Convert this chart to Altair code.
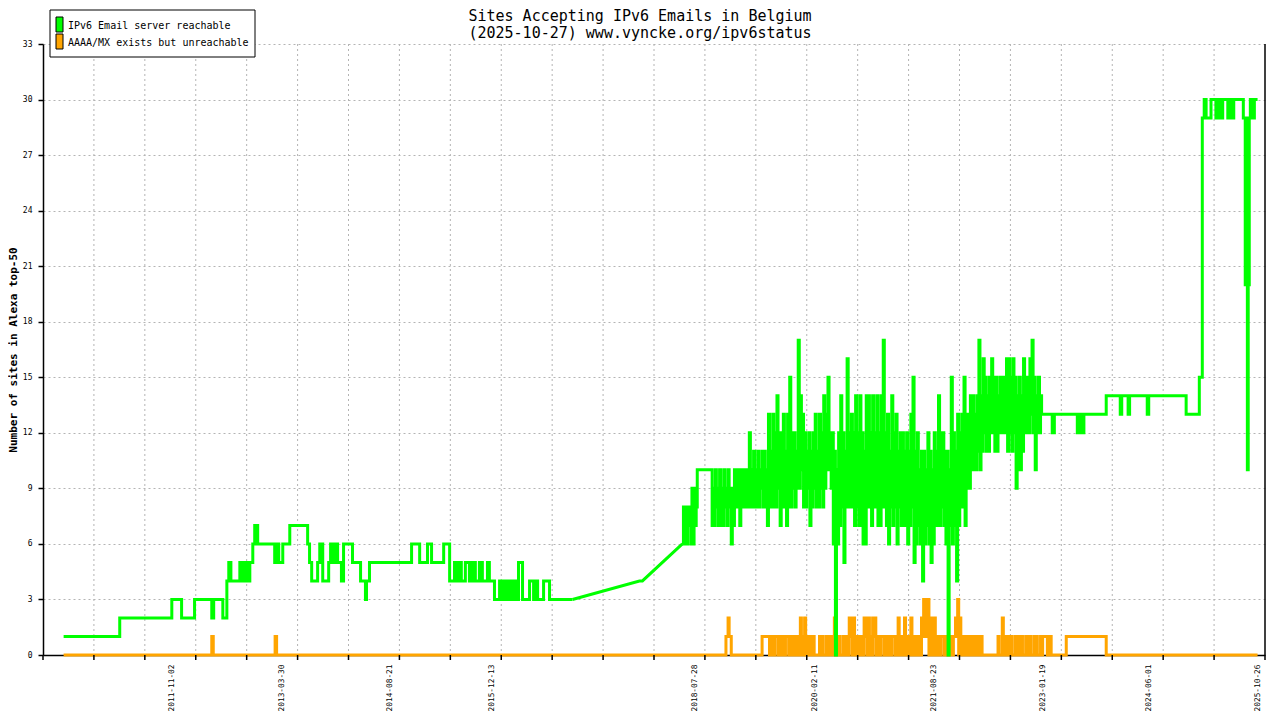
import altair as alt
import pandas as pd

MONO = "DejaVu Sans Mono"
GREEN = "#00ff00"
ORANGE = "#ffa500"

TITLE_LINES = ["Sites Accepting IPv6 Emails in Belgium", "(2025-10-27) www.vyncke.org/ipv6status"]
Y_TITLE = "Number of sites in Alexa top-50"
LEGEND_LABELS = ["IPv6 Email server reachable", "AAAA/MX exists but unreachable"]
LEGEND_COLORS = [GREEN, ORANGE]
X_LABEL_DATES = ["2011-11-02", "2013-03-30", "2014-08-21", "2015-12-13", "2018-07-28",
                 "2020-02-11", "2021-08-23", "2023-01-19", "2024-06-01", "2025-10-26"]
Y_TICKS = [0, 3, 6, 9, 12, 15, 18, 21, 24, 27, 30, 33]
X_DOMAIN = ["2010-03-06", "2025-12-01"]
N_X_INTERVALS = 24

# --- IPv6 reachable: change points before the 2017 data gap ---
green_a_dates = [
    "2010-06-11", "2011-03-02", "2011-11-02", "2011-12-18", "2012-02-17", "2012-05-08", "2012-05-17",
    "2012-06-29", "2012-07-18", "2012-07-27", "2012-08-06", "2012-09-17", "2012-09-26", "2012-10-06",
    "2012-10-15", "2012-10-24", "2012-10-29", "2012-11-03", "2012-11-17", "2012-11-26", "2012-12-10",
    "2013-02-28", "2013-03-09", "2013-03-19", "2013-04-07", "2013-05-10", "2013-08-02", "2013-08-11",
    "2013-08-21", "2013-09-18", "2013-09-28", "2013-10-02", "2013-10-07", "2013-10-12", "2013-11-09",
    "2013-11-18", "2013-11-28", "2013-12-07", "2013-12-21", "2014-01-08", "2014-01-18", "2014-03-01",
    "2014-04-08", "2014-05-01", "2014-05-06", "2014-05-20", "2014-12-04", "2015-01-11", "2015-02-17",
    "2015-03-08", "2015-05-04", "2015-06-01", "2015-06-24", "2015-07-03", "2015-07-17", "2015-07-26",
    "2015-08-14", "2015-09-02", "2015-09-16", "2015-09-30", "2015-10-19", "2015-11-02", "2015-11-26",
    "2015-12-05", "2015-12-29", "2016-01-22", "2016-02-05", "2016-02-15", "2016-02-24", "2016-03-05",
    "2016-03-14", "2016-03-23", "2016-04-06", "2016-04-20", "2016-05-09", "2016-06-11", "2016-06-30",
    "2016-07-14", "2016-07-19", "2016-08-16", "2016-09-13", "2016-12-30",
]
green_a_values = [
    1, 2, 3, 2, 3, 2, 3,
    2, 4, 5, 4, 5, 4, 5,
    4, 5, 4, 5, 6, 7, 6,
    5, 6, 5, 6, 7, 6, 5,
    4, 5, 6, 5, 6, 4, 5,
    6, 5, 6, 5, 4, 6, 5,
    4, 3, 4, 5, 6, 5, 6,
    5, 6, 4, 5, 4, 5, 4,
    5, 4, 5, 4, 5, 4, 5,
    4, 3, 4, 3, 4, 3, 4,
    3, 4, 3, 5, 3, 4, 3,
    4, 3, 4, 3, 3,
]

# --- sparse period (straight line between the few samples) ---
gap_dates = ["2016-12-30", "2017-11-10", "2017-11-24", "2018-05-31"]
gap_values = [3, 4, 4, 6]

# --- dense daily period: low and high read for each 10-day bin ---
dense_start = "2018-05-31"
dense_bin_days = 10
green_dense_lo = [
    6, 6, 6, 7, 6, 6, 7,
    10, 10, 10, 10, 10, 10, 10,
    7, 7, 8, 7, 7, 7, 8, 7, 8,
    6,
    7, 8, 8, 7, 8, 8, 8,
    8,
    8, 8, 8, 8, 8, 9, 8, 8,
    7, 8,
    8, 8, 8, 9,
    7, 8, 8, 7, 8, 8, 9, 8,
    9, 9, 10,
    8, 8, 9, 7, 8, 9, 8, 8, 9, 8, 9, 10,
    10, 9, 6, 0, 6,
    7, 8, 5, 8, 8,
    8, 8, 7, 8, 7, 7, 6, 6, 8, 8, 7, 8, 8,
    7, 7, 8, 8, 7, 6, 8, 7, 8, 6, 8, 7, 7,
    7, 6, 7, 8, 5, 6, 7, 6,
    4, 6, 7, 6, 5, 6, 7, 7,
    7, 8, 7, 6, 0, 7,
    6, 7, 4, 7, 8, 8,
    7, 9, 9, 10, 10, 10, 11,
    10, 11, 12, 11, 11, 12, 12, 11, 11, 12, 12, 12,
    12, 11, 12, 11, 12, 9, 10, 10, 11, 12, 12, 12, 13, 12, 10, 12, 12, 13,
]
green_dense_hi = [
    8, 8, 8, 8, 9, 9, 8,
    10, 10, 10, 10, 10, 10, 10,
    9, 10, 9, 10, 9, 10, 9, 10, 9,
    9,
    10, 10, 10, 10, 10, 10, 10,
    12,
    10, 11, 10, 11, 10, 11, 11, 10,
    13, 11,
    13, 12, 14, 12,
    12, 13, 11, 13, 15, 12, 12, 11,
    17, 14, 13,
    12, 11, 12, 11, 12, 13, 11, 13, 12, 14, 13, 15,
    12, 12, 11, 10, 12,
    14, 12, 11, 16, 12,
    13, 12, 14, 12, 14, 12, 11, 14, 14, 12, 14, 12, 14,
    12, 14, 17, 12, 13, 11, 14, 12, 13, 11, 12, 12, 11,
    12, 11, 13, 15, 11, 12, 10, 11,
    11, 10, 12, 11, 10, 12, 11, 14,
    12, 12, 11, 11, 10, 15,
    12, 11, 13, 12, 13, 15,
    13, 13, 14, 14, 13, 14, 17,
    14, 16, 15, 14, 15, 16, 15, 15, 14, 15, 15, 15,
    16, 16, 15, 16, 15, 14, 15, 14, 16, 15, 15, 16, 17, 15, 14, 15, 14, 13,
]
orange_dense_lo = [
    0, 0, 0, 0, 0, 0, 0, 0, 0, 0, 0, 0, 0, 0, 0, 0, 0, 0, 0, 0,
    0, 1, 1, 0,
    0, 0, 0, 0, 0, 0, 0, 0, 0, 0, 0, 0, 0,
    0, 1, 1, 1, 0, 0, 0, 1, 0, 0, 0, 0, 1, 0, 0, 0, 0, 0,
    0, 0, 0, 0,
    0, 0, 0, 0, 0, 0, 0, 0, 0, 0, 0, 0,
    0, 0, 0, 0, 0, 0, 0,
    0, 1, 0, 0,
    0, 0, 0,
    0, 1, 0, 0, 0, 1, 0,
    0, 0, 1, 0, 0, 0, 0, 1, 0,
    0, 0, 0, 0, 0, 0, 0, 0,
    0, 0, 0,
    0, 1, 1, 1, 0, 0, 0,
    0, 0, 0, 1, 0, 0, 0, 0, 0,
    1, 1, 0, 0,
    0, 0, 0, 0, 0, 0, 0,
    0, 0, 0, 0, 0, 0, 0, 0, 0, 0, 0,
    0, 0,
    0, 0, 0, 0, 0, 0, 0, 0, 0, 0, 0, 0, 0, 0, 0, 0, 0, 0,
]
orange_dense_hi = [
    0, 0, 0, 0, 0, 0, 0, 0, 0, 0, 0, 0, 0, 0, 0, 0, 0, 0, 0, 0,
    1, 2, 1, 0,
    0, 0, 0, 0, 0, 0, 0, 0, 0, 0, 0, 0, 0,
    1, 1, 1, 1, 1, 1, 1, 1, 1, 1, 1, 1, 1, 1, 1, 1, 1, 1,
    2, 1, 2, 1,
    1, 1, 1, 0, 0, 1, 1, 0, 1, 1, 1, 1,
    2, 1, 1, 0, 1, 1, 1,
    2, 2, 2, 1,
    1, 1, 1,
    2, 2, 2, 1, 2, 2, 1,
    1, 1, 1, 1, 1, 1, 1, 1, 1,
    2, 1, 1, 2, 1, 1, 2, 1,
    1, 1, 1,
    2, 3, 3, 3, 2, 2, 2,
    1, 1, 1, 1, 1, 1, 1, 1, 1,
    2, 3, 2, 1,
    1, 1, 1, 1, 1, 1, 1,
    1, 1, 0, 0, 0, 0, 0, 0, 0, 1, 0,
    2, 1,
    1, 1, 1, 0, 1, 1, 1, 1, 0, 1, 1, 1, 0, 1, 1, 0, 1, 1,
]

# --- after the dense period ---
green_b_dates = [
    "2023-01-25", "2023-03-06", "2023-03-16", "2023-07-02", "2023-07-10", "2023-07-24", "2023-08-02",
    "2023-11-15", "2024-01-20", "2024-01-27", "2024-02-26", "2024-03-04", "2024-05-26", "2024-06-02",
    "2024-11-25", "2025-01-26", "2025-02-09", "2025-02-18", "2025-02-27", "2025-03-22", "2025-04-14",
    "2025-04-23", "2025-05-02", "2025-05-16", "2025-06-09", "2025-06-18", "2025-06-28", "2025-07-07",
    "2025-08-21", "2025-08-30", "2025-09-04", "2025-09-09", "2025-09-13", "2025-09-18", "2025-09-23",
    "2025-10-02", "2025-10-12", "2025-10-27",
]
green_b_values = [
    13, 12, 13, 12, 13, 12, 13,
    14, 13, 14, 13, 14, 13, 14,
    13, 15, 29, 30, 29, 30, 29,
    30, 29, 30, 29, 30, 29, 30,
    29, 20, 29, 10, 20, 29, 30,
    29, 30, 30,
]

# --- AAAA/MX exists but unreachable ---
orange_a_dates = ["2010-06-11", "2012-05-08", "2012-05-15", "2013-03-02", "2013-03-09"]
orange_a_values = [0, 1, 0, 1, 0]
orange_b_dates = ["2023-01-25", "2023-02-11", "2023-02-20", "2023-03-01", "2023-05-11",
                  "2023-11-15", "2025-10-27"]
orange_b_values = [1, 0, 1, 0, 1, 0, 0]

W, H = 1222, 611


def dense_points(start, bin_days, lo, hi):
    """Each bin: its low at the bin start, its high half a bin later."""
    s = pd.Timestamp(start)
    dates, vals = [], []
    for i, (a, b) in enumerate(zip(lo, hi)):
        d0 = s + pd.Timedelta(days=bin_days * i)
        dates += [d0.strftime("%Y-%m-%d"), (d0 + pd.Timedelta(days=bin_days // 2)).strftime("%Y-%m-%d")]
        vals += [a, b]
    return dates, vals


def dt(s):
    y, m, d = map(int, s.split("-"))
    return alt.DateTime(year=y, month=m, date=d, utc=True)


gd_dates, gd_vals = dense_points(dense_start, dense_bin_days, green_dense_lo, green_dense_hi)
od_dates, od_vals = dense_points(dense_start, dense_bin_days, orange_dense_lo, orange_dense_hi)

green_df = pd.DataFrame({
    "date": green_a_dates + gd_dates + green_b_dates,
    "value": green_a_values + gd_vals + green_b_values,
    "seg": ["a"] * len(green_a_dates) + ["b"] * (len(gd_dates) + len(green_b_dates)),
})
orange_df = pd.DataFrame({
    "date": orange_a_dates + od_dates + orange_b_dates,
    "value": orange_a_values + od_vals + orange_b_values,
})
gap_df = pd.DataFrame({"date": gap_dates, "value": gap_values})

t0 = pd.Timestamp(X_DOMAIN[0])
t1 = pd.Timestamp(X_DOMAIN[1])
tick_df = pd.DataFrame({
    "date": [(t0 + (t1 - t0) * k / N_X_INTERVALS).strftime("%Y-%m-%dT%H:%M:%SZ")
             for k in range(N_X_INTERVALS + 1)],
    "k": list(range(N_X_INTERVALS + 1)),
})
legend_df = pd.DataFrame({"label": LEGEND_LABELS, "color": LEGEND_COLORS, "row": [0, 1]})
title_df = pd.DataFrame({"line": TITLE_LINES, "row": [0, 1]})
one_df = pd.DataFrame({"k": [0]})

xs = alt.Scale(type="utc", domain=[dt(X_DOMAIN[0]), dt(X_DOMAIN[1])], nice=False)
ys = alt.Scale(domain=[0, 33], nice=False, zero=True)

x_axis = alt.Axis(
    values=[dt(s) for s in X_LABEL_DATES],
    labelExpr="utcFormat(datum.value, '%Y-%m-%d')",
    labelAngle=270, ticks=False, tickSize=0, grid=False, labelPadding=9,
    labelFont=MONO, labelFontSize=7.8, labelColor="black", domainColor="black",
    domainWidth=1.5, labelOverlap=False, labelFlush=False, labelBound=False, title=None,
)
y_axis = alt.Axis(
    values=Y_TICKS, title=Y_TITLE, titleFont=MONO, titleFontSize=11, titleFontWeight="bold",
    titleColor="black", titleX=-29.5, titleY=H / 2, titleAngle=270, titleAlign="center",
    titleBaseline="middle", labelFont=MONO, labelFontSize=8, labelColor="black",
    labelPadding=6, tickSize=5, tickColor="black", tickWidth=1.5, domainColor="black",
    domainWidth=1.5, grid=True, gridColor="#b4b4b4", gridDash=[2, 3], gridWidth=1,
)

X = alt.X("date:T", scale=xs, axis=x_axis)
Y = alt.Y("value:Q", scale=ys, axis=y_axis)

vgrid = alt.Chart(tick_df).transform_filter(
    f"datum.k > 0 && datum.k < {N_X_INTERVALS}"
).mark_rule(color="#b4b4b4", strokeDash=[2, 3], strokeWidth=1).encode(x=X)
xticks = alt.Chart(tick_df).mark_rule(color="black", strokeWidth=1.5).encode(
    x=X, y=alt.value(H), y2=alt.value(H + 5)
)

orange = alt.Chart(orange_df).mark_line(color=ORANGE, strokeWidth=3, interpolate="step-after").encode(
    x=X, y=Y
)
green = alt.Chart(green_df).mark_line(color=GREEN, strokeWidth=3, interpolate="step-after").encode(
    x=X, y=Y, detail="seg:N"
)
gap = alt.Chart(gap_df).mark_line(color=GREEN, strokeWidth=3).encode(x=X, y=Y)
right_frame = alt.Chart(one_df).mark_rule(color="black", strokeWidth=1.5).encode(
    x=alt.value(W), y=alt.value(0), y2=alt.value(H)
)

legend_box = alt.Chart(one_df).mark_rect(fill="white", stroke="black", strokeWidth=1).encode(
    x=alt.value(7), x2=alt.value(212), y=alt.value(-34), y2=alt.value(13)
)
extra_layers = [legend_box]
for i in range(len(LEGEND_LABELS)):
    sw = alt.Chart(legend_df).transform_filter(f"datum.row == {i}").mark_rect(
        stroke="black", strokeWidth=1
    ).encode(
        x=alt.value(13), x2=alt.value(20), y=alt.value(-27 + 17 * i), y2=alt.value(-12 + 17 * i),
        fill=alt.Fill("color:N", scale=None, legend=None),
    )
    tx = alt.Chart(legend_df).transform_filter(f"datum.row == {i}").mark_text(
        align="left", baseline="middle", font=MONO, fontSize=10, color="black"
    ).encode(x=alt.value(25), y=alt.value(-18 + 17 * i), text="label:N")
    extra_layers += [sw, tx]
for i in range(len(TITLE_LINES)):
    tt = alt.Chart(title_df).transform_filter(f"datum.row == {i}").mark_text(
        align="center", baseline="middle", font=MONO, fontSize=15, color="black"
    ).encode(x=alt.value(597), y=alt.value(-28 + 17 * i), text="line:N")
    extra_layers.append(tt)

chart = alt.layer(
    vgrid, orange, green, gap, right_frame, xticks, *extra_layers
).properties(
    width=W, height=H,
    autosize=alt.AutoSizeParams(type="none"),
    padding={"left": 35, "top": 36, "right": 5, "bottom": 57},
    background="white",
).configure_view(stroke=None)

chart.save("out.html", embed_options={"renderer": "svg", "actions": False})
